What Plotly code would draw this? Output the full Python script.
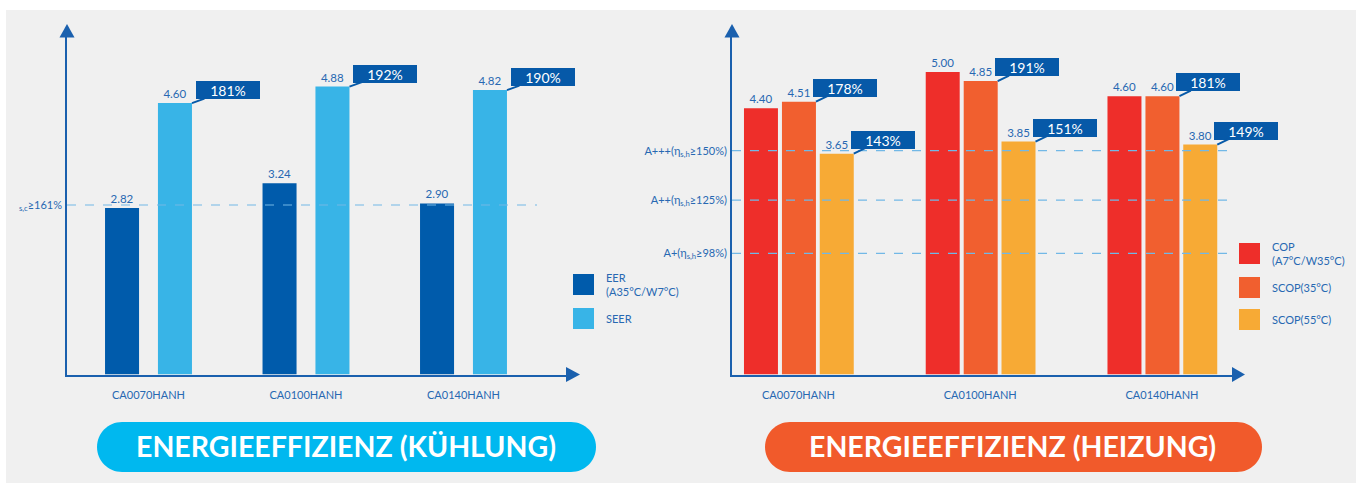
import plotly.graph_objects as go

# ---------------- data ----------------
categories = ["CA0070HANH", "CA0100HANH", "CA0140HANH"]

# cooling
eer = [2.82, 3.24, 2.90]
seer = [4.60, 4.88, 4.82]
seer_pct = ["181%", "192%", "190%"]
cool_names = ["EER<br>(A35°C/W7°C)", "SEER"]
cool_thresholds = [161]
cool_threshold_labels = ["<sub>s,c</sub>≥161%"]

# heating
cop = [4.40, 5.00, 4.60]
scop35 = [4.51, 4.85, 4.60]
scop55 = [3.65, 3.85, 3.80]
scop35_pct = ["178%", "191%", "181%"]
scop55_pct = ["143%", "151%", "149%"]
heat_names = ["COP<br>(A7°C/W35°C)", "SCOP(35°C)", "SCOP(55°C)"]
heat_thresholds = [150, 125, 98]
heat_threshold_labels = ["A+++(η<sub>s,h</sub>≥150%)",
                         "A++(η<sub>s,h</sub>≥125%)",
                         "A+(η<sub>s,h</sub>≥98%)"]

titles = ["ENERGIEEFFIZIENZ (KÜHLUNG)", "ENERGIEEFFIZIENZ (HEIZUNG)"]

# ---------------- style ----------------
W, H = 1356, 483
FONT = "Lato"
DARK_BLUE = "#005bab"
LIGHT_BLUE = "#38b4e7"
RED = "#ee2e2a"
ORANGE = "#f15f2f"
YELLOW = "#f7aa35"
TEXT_BLUE = "#2768b2"
AXIS_BLUE = "#1a60ae"
CALLOUT = "#0659a8"
DASH = "#72b8e6"
PANEL = "#f0f0f0"
PILL_CYAN = "#00b8ef"
PILL_ORANGE = "#f15a2b"


def px(x):
    return x / W


def py(y):
    return 1 - y / H


idx = list(range(len(categories)))

# plot-area geometry (pixels)
TOP, BASE = 37, 374.5
L_X0, L_X1 = 67, 567
R_X0, R_X1 = 732, 1233

fig = go.Figure()

# ---------- cooling bars ----------
cool_series = [(eer, DARK_BLUE, -0.276), (seer, LIGHT_BLUE, 0.060)]
CW = 0.216
for (vals, col, off), name in zip(cool_series, cool_names):
    fig.add_trace(go.Bar(
        x=idx, y=vals, name=name, width=CW, offset=off,
        marker=dict(color=col, line=dict(width=0)),
        texttemplate="%{y:.2f}", textposition="outside",
        textfont=dict(color=TEXT_BLUE, size=11.5, family=FONT),
        cliponaxis=False, xaxis="x", yaxis="y", showlegend=False,
    ))

# ---------- heating bars ----------
heat_series = [(cop, RED, -0.300), (scop35, ORANGE, -0.091), (scop55, YELLOW, 0.117)]
HW = 0.187
for (vals, col, off), name in zip(heat_series, heat_names):
    fig.add_trace(go.Bar(
        x=idx, y=vals, name=name, width=HW, offset=off,
        marker=dict(color=col, line=dict(width=0)),
        texttemplate="%{y:.2f}", textposition="outside",
        textfont=dict(color=TEXT_BLUE, size=11.5, family=FONT),
        cliponaxis=False, xaxis="x2", yaxis="y2", showlegend=False,
    ))

shapes = []
annotations = []

# background panel
shapes.append(dict(type="rect", xref="paper", yref="paper",
                   x0=px(6), x1=px(W), y0=py(H), y1=py(10),
                   fillcolor=PANEL, line=dict(width=0), layer="below"))

# threshold dashed lines
for t in cool_thresholds:
    shapes.append(dict(type="line", xref="x domain", yref="y3",
                       x0=0, x1=0.94, y0=t, y1=t,
                       line=dict(color=DASH, width=1.2, dash="dash")))
for t in heat_thresholds:
    shapes.append(dict(type="line", xref="x2 domain", yref="y4",
                       x0=0, x1=1, y0=t, y1=t,
                       line=dict(color=DASH, width=1.2, dash="dash")))


# arrow heads
def tri(p1, p2, p3, col=AXIS_BLUE):
    path = "M {} {} L {} {} L {} {} Z".format(px(p1[0]), py(p1[1]), px(p2[0]), py(p2[1]),
                                              px(p3[0]), py(p3[1]))
    return dict(type="path", xref="paper", yref="paper", path=path,
                fillcolor=col, line=dict(width=0))


shapes.append(tri((67, 24), (59.5, 37.5), (74.5, 37.5)))
shapes.append(tri((732, 24), (724.5, 37.5), (739.5, 37.5)))
shapes.append(tri((580, BASE), (566, BASE - 7.5), (566, BASE + 7.5)))
shapes.append(tri((1245, BASE), (1232, BASE - 7.5), (1232, BASE + 7.5)))


# pills
def pill(x0, x1, y0, y1, col):
    r = (y1 - y0) / 2
    k = 0.5523 * r
    pts = [
        ("M", [(x0 + r, y0)]),
        ("L", [(x1 - r, y0)]),
        ("C", [(x1 - r + k, y0), (x1, y0 + r - k), (x1, y0 + r)]),
        ("C", [(x1, y0 + r + k), (x1 - r + k, y1), (x1 - r, y1)]),
        ("L", [(x0 + r, y1)]),
        ("C", [(x0 + r - k, y1), (x0, y0 + r + k), (x0, y0 + r)]),
        ("C", [(x0, y0 + r - k), (x0 + r - k, y0), (x0 + r, y0)]),
    ]
    s = ""
    for cmd, ps in pts:
        s += cmd + " " + " ".join("{:.6f},{:.6f}".format(px(a), py(b)) for a, b in ps) + " "
    s += "Z"
    return dict(type="path", xref="paper", yref="paper", path=s,
                fillcolor=col, line=dict(width=0))


shapes.append(pill(97, 596, 422, 472, PILL_CYAN))
shapes.append(pill(765, 1262, 422, 472, PILL_ORANGE))

for title, cx in zip(titles, [345.5, 1012.5]):
    annotations.append(dict(xref="paper", yref="paper", x=px(cx), y=py(446),
                            xanchor="center", yanchor="middle",
                            text=title, showarrow=False,
                            font=dict(family=FONT, size=28.5, color="white", weight=700)))


# callouts
def callout(xr, yr, xval, yval, text, dx, dy):
    return dict(xref=xr, yref=yr, x=xval, y=yval, text=text,
                showarrow=True, arrowhead=0, arrowwidth=2, arrowcolor=CALLOUT,
                ax=dx, ay=dy, bgcolor=CALLOUT, bordercolor=CALLOUT, borderwidth=1,
                borderpad=0, width=62, height=16,
                font=dict(family=FONT, size=14, color="white"))


for i, (v, t) in enumerate(zip(seer, seer_pct)):
    annotations.append(callout("x", "y", i + 0.060 + CW, v, t, 36, -13))
for i, (v, t) in enumerate(zip(scop35, scop35_pct)):
    annotations.append(callout("x2", "y2", i - 0.091 + HW, v, t, 29, -14))
for i, (v, t) in enumerate(zip(scop55, scop55_pct)):
    annotations.append(callout("x2", "y2", i + 0.117 + HW, v, t, 29, -14))


# custom legends
def legend_item(x_sq, y_sq, col, text):
    shapes.append(dict(type="rect", xref="paper", yref="paper",
                       x0=px(x_sq), x1=px(x_sq + 21), y0=py(y_sq + 21), y1=py(y_sq),
                       fillcolor=col, line=dict(width=0)))
    annotations.append(dict(xref="paper", yref="paper", x=px(x_sq + 31),
                            y=py(y_sq + 10.5), xanchor="left", yanchor="middle",
                            align="left", text=text, showarrow=False,
                            font=dict(family=FONT, size=11, color=TEXT_BLUE)))


for (vals, col, off), name, ysq in zip(cool_series, cool_names, [274, 308]):
    legend_item(573, ysq, col, name)
for (vals, col, off), name, ysq in zip(heat_series, heat_names, [243, 277, 309]):
    legend_item(1239, ysq, col, name)

ydom = [py(BASE), py(TOP)]
L_SCALE = 59.0
R_SCALE = 60.5
PCT_SCALE = 1.973
L_SP = 157.5
R_SP = 181.75
L_C0 = 148.5
R_C0 = 798.5

tick_font = dict(family=FONT, size=11, color=TEXT_BLUE)

fig.update_layout(
    width=W, height=H, autosize=False,
    margin=dict(l=0, r=0, t=0, b=0, pad=0),
    paper_bgcolor="white", plot_bgcolor="rgba(0,0,0,0)",
    barmode="overlay",
    font=dict(family=FONT, color=TEXT_BLUE),
    shapes=shapes, annotations=annotations,
    xaxis=dict(domain=[px(L_X0), px(L_X1)],
               range=[(L_X0 - L_C0) / L_SP, (L_X1 - L_C0) / L_SP],
               tickvals=idx, ticktext=categories, ticks="",
               showline=True, linecolor=AXIS_BLUE, linewidth=2,
               showgrid=False, zeroline=False, tickfont=tick_font,
               ticklabelstandoff=9, anchor="y"),
    yaxis=dict(domain=ydom, range=[0, (BASE - TOP) / L_SCALE],
               showline=True, linecolor=AXIS_BLUE, linewidth=2,
               showticklabels=False, ticks="", showgrid=False, zeroline=False,
               anchor="x"),
    yaxis3=dict(overlaying="y", anchor="x", side="left",
                range=[cool_thresholds[0] - (BASE - 205) / PCT_SCALE,
                       cool_thresholds[0] + (205 - TOP) / PCT_SCALE],
                tickvals=cool_thresholds, ticktext=cool_threshold_labels,
                ticks="", showgrid=False, zeroline=False, showline=False,
                tickfont=tick_font, ticklabelstandoff=4),
    xaxis2=dict(domain=[px(R_X0), px(R_X1)],
                range=[(R_X0 - R_C0) / R_SP, (R_X1 - R_C0) / R_SP],
                tickvals=idx, ticktext=categories, ticks="",
                showline=True, linecolor=AXIS_BLUE, linewidth=2,
                showgrid=False, zeroline=False, tickfont=tick_font,
                ticklabelstandoff=9, anchor="y2"),
    yaxis2=dict(domain=ydom, range=[0, (BASE - TOP) / R_SCALE],
                showline=True, linecolor=AXIS_BLUE, linewidth=2,
                showticklabels=False, ticks="", showgrid=False, zeroline=False,
                anchor="x2"),
    yaxis4=dict(overlaying="y2", anchor="x2", side="left",
                range=[heat_thresholds[0] - (BASE - 150.7) / PCT_SCALE,
                       heat_thresholds[0] + (150.7 - TOP) / PCT_SCALE],
                tickvals=heat_thresholds, ticktext=heat_threshold_labels,
                ticks="", showgrid=False, zeroline=False, showline=False,
                tickfont=tick_font, ticklabelstandoff=4),
)

fig.write_html("out.html",
               config={"displayModeBar": False, "staticPlot": True},
               post_script="document.body.style.margin='0';document.body.style.padding='0';")
